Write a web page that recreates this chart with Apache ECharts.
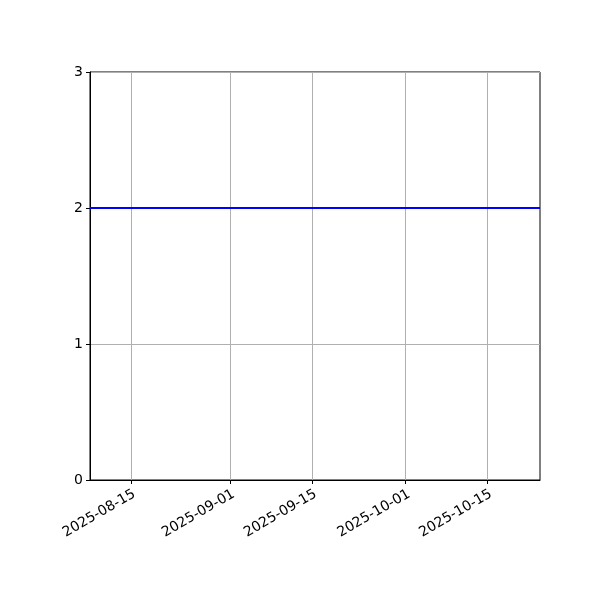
<!DOCTYPE html>
<html>
<head>
<meta charset="utf-8">
<script src="https://cdn.jsdelivr.net/npm/echarts@6/dist/echarts.min.js"></script>
<style>
  html, body { margin: 0; padding: 0; background: #fff; }
  #main { width: 600px; height: 600px; }
</style>
</head>
<body>
<div id="main"></div>
<script>
  // data
  var dates = ['2025-08-08', '2025-08-15', '2025-09-01', '2025-09-15', '2025-10-01', '2025-10-15', '2025-10-24'];
  var values = [2, 2, 2, 2, 2, 2, 2];
  var xTicks = ['2025-08-15', '2025-09-01', '2025-09-15', '2025-10-01', '2025-10-15'];
  var xRange = ['2025-08-08', '2025-10-24'];
  var yTicks = [0, 1, 2, 3];

  function ts(s) { return +new Date(s + 'T00:00:00'); }
  function pad(n) { return n < 10 ? '0' + n : '' + n; }

  var tickValues = xTicks.map(ts);
  var chart = echarts.init(document.getElementById('main'));

  var option = {
    animation: false,
    grid: {
      left: 90, right: 60, top: 72, bottom: 120,
      show: true, borderColor: '#000', borderWidth: 1, backgroundColor: 'transparent'
    },
    // x axis is a plain value axis holding timestamps, so the ticks can sit on the given dates
    xAxis: {
      type: 'value',
      min: ts(xRange[0]),
      max: ts(xRange[1]),
      axisLine: { show: true, onZero: false, lineStyle: { color: '#000', width: 1 } },
      axisTick: { show: true, length: 4, lineStyle: { color: '#000' }, customValues: tickValues },
      axisLabel: {
        customValues: tickValues,
        rotate: 30,
        color: '#000',
        fontSize: 14,
        fontFamily: 'DejaVu Sans',
        margin: 7,
        verticalAlign: 'top',
        formatter: function (v) {
          var d = new Date(v);
          return d.getFullYear() + '-' + pad(d.getMonth() + 1) + '-' + pad(d.getDate());
        }
      },
      splitLine: { show: false }
    },
    yAxis: {
      type: 'value',
      min: yTicks[0],
      max: yTicks[yTicks.length - 1],
      interval: 1,
      axisLine: { show: true, lineStyle: { color: '#000', width: 1 } },
      axisTick: { show: true, length: 4, lineStyle: { color: '#000' } },
      axisLabel: { color: '#000', fontSize: 14, fontFamily: 'DejaVu Sans', margin: 7 },
      splitLine: { show: true, lineStyle: { color: '#b0b0b0', width: 1 } }
    },
    series: [
      {
        // vertical grid lines at the date ticks
        type: 'line',
        data: [],
        silent: true,
        markLine: {
          symbol: 'none',
          silent: true,
          label: { show: false },
          lineStyle: { color: '#b0b0b0', width: 1, type: 'solid' },
          data: tickValues.map(function (t) { return { xAxis: t }; })
        }
      },
      {
        type: 'line',
        data: dates.map(function (d, i) { return [ts(d), values[i]]; }),
        showSymbol: false,
        lineStyle: { color: '#0000ff', width: 2 },
        itemStyle: { color: '#0000ff' },
        z: 5
      }
    ]
  };
  chart.setOption(option);
</script>
</body>
</html>
